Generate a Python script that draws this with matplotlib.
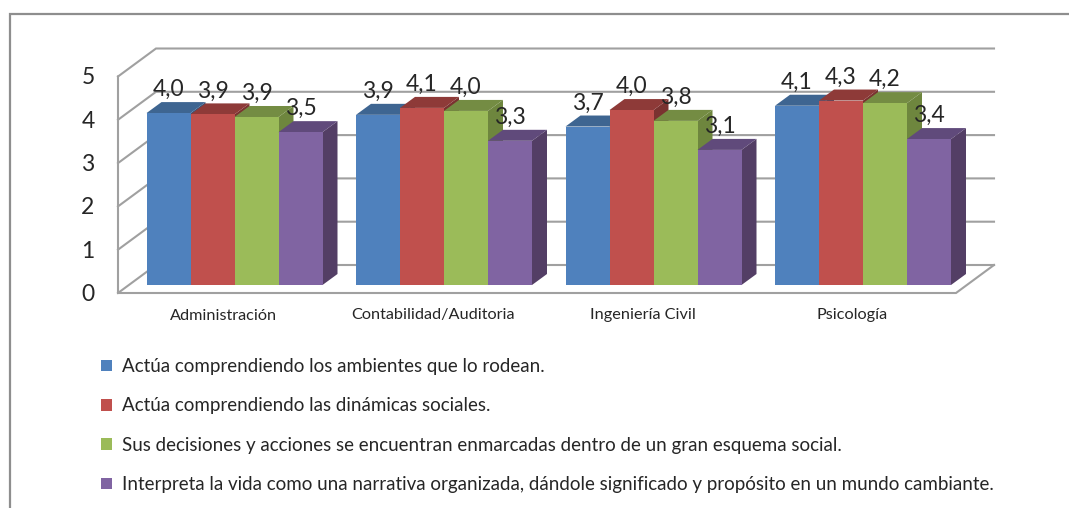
import matplotlib
matplotlib.use("Agg")
import matplotlib.pyplot as plt
from matplotlib.patches import Patch

plt.rcParams["font.family"] = ["Lato", "DejaVu Sans"]

categories = ["Administración", "Contabilidad/Auditoria", "Ingeniería Civil", "Psicología"]
series_names = [
    "Actúa comprendiendo los ambientes que lo rodean.",
    "Actúa comprendiendo las dinámicas sociales.",
    "Sus decisiones y acciones se encuentran enmarcadas dentro de un gran esquema social.",
    "Interpreta la vida como una narrativa organizada, dándole significado y propósito en un mundo cambiante.",
]
ambientes = [3.97, 3.93, 3.66, 4.14]
dinamicas = [3.94, 4.09, 4.04, 4.26]
decisiones = [3.88, 4.02, 3.79, 4.20]
narrativa = [3.53, 3.33, 3.12, 3.37]
series = [ambientes, dinamicas, decisiones, narrativa]
value_ticks = [0, 1, 2, 3, 4, 5]

front_colors = ["#4F81BD", "#C0504D", "#9BBB59", "#8064A2"]
top_colors = ["#3E6591", "#8E3A38", "#748C43", "#604A7B"]
side_colors = ["#35567C", "#7A3230", "#6E863E", "#533E65"]
grid_color = "#A0A0A0"
text_color = "#262626"

W, H = 1069, 508
PXX, PXY = 209.5, 43.3          # pixels per category, pixels per value unit
X0, Y0 = 234.5, 285.0           # pixel position of category 0 / value 0


def dx(px):
    return px / PXX


def dy(px):
    return px / PXY


fig = plt.figure(figsize=(W / 100, H / 100), dpi=100)
ax = fig.add_axes([0, 0, 1, 1])
ax.set_xlim(-X0 / PXX, (W - X0) / PXX)
ax.set_ylim((Y0 - H) / PXY, Y0 / PXY)
ax.axis("off")

# outer chart frame
ax.plot([10 / W, 10 / W, 1], [0, 1 - 14 / H, 1 - 14 / H], transform=ax.transAxes,
        color="#8E8E8E", lw=1.6, solid_joinstyle="miter", clip_on=False)

# 3D-look walls and floor
fx_l, fx_r = dx(118 - X0), dx(956 - X0)
bx_l, bx_r = dx(156 - X0), dx(994 - X0)
f0, b0 = dy(Y0 - 293), dy(Y0 - 265)
glw = 1.5
for v in value_ticks:
    ax.plot([fx_l, bx_l, bx_r], [f0 + v, b0 + v, b0 + v], color=grid_color, lw=glw, zorder=1,
            solid_joinstyle="miter")
    ax.text(dx(88 - X0), f0 + v - dy(1.5), str(v), ha="center", va="center",
            fontsize=16.5, color=text_color)
ax.plot([fx_l, fx_l, fx_r, bx_r], [f0 + value_ticks[-1], f0, f0, b0], color=grid_color, lw=glw,
        zorder=1, solid_joinstyle="miter")

# bars
bw = dx(44)
ddx, ddy = dx(15), dy(11)
for c, name in enumerate(categories):
    for s, vals in enumerate(series):
        v = vals[c]
        left = c + (s - 2) * bw
        right = left + bw
        z = 2 + c * 10 + s
        ax.fill([right, right + ddx, right + ddx, right], [0, ddy, v + ddy, v],
                color=side_colors[s], lw=0, zorder=z)
        ax.fill([left, left + ddx, right + ddx, right], [v, v + ddy, v + ddy, v],
                color=top_colors[s], lw=0, zorder=z)
        ax.bar(left, v, width=bw, align="edge", color=front_colors[s], lw=0, zorder=z)
        ax.text(left + bw / 2, v + dy(23.5), f"{v:.1f}".replace(".", ","), ha="center", va="center",
                fontsize=16.5, color=text_color, zorder=100)
    ax.text(c - dx(11), dy(Y0 - 315.5), name, ha="center", va="center",
            fontsize=11.7, color=text_color)

# legend
handles = [Patch(facecolor=col, edgecolor="none", label=n) for col, n in zip(front_colors, series_names)]
ax.legend(handles=handles, loc="upper left", bbox_to_anchor=(101 / W, 1 - 358 / H), frameon=False,
          fontsize=13.5, handlelength=0.587, handleheight=0.587, handletextpad=0.53,
          labelspacing=1.195, borderpad=0, borderaxespad=0, labelcolor=text_color)

fig.savefig("out.png", dpi=100)
